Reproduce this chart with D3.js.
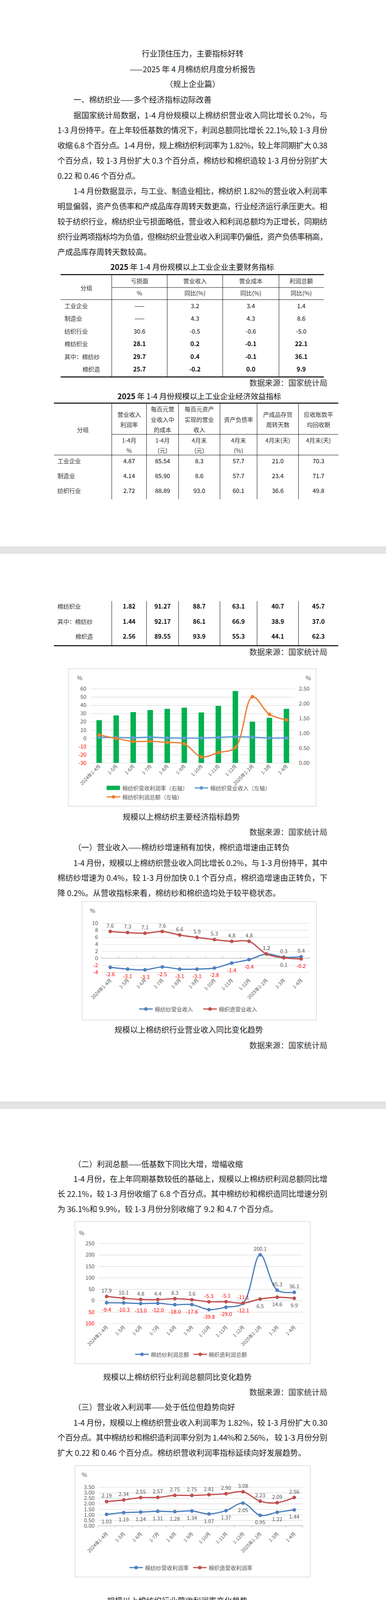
<!DOCTYPE html>
<html>
<head>
<meta charset="utf-8">
<script src="https://d3js.org/d3.v7.min.js"></script>
<style>
  html, body { margin: 0; padding: 0; background: #fff; }
  svg { display: block; }
  svg text { font-family: "Noto Sans CJK SC", "Noto Sans", sans-serif; }
</style>
</head>
<body>
<script>
const FONT = '"Noto Sans CJK SC", "Noto Sans", sans-serif';

// ---- data ----
const months = ['2024年1-4月', '1-5月', '1-6月', '1-7月', '1-8月', '1-9月', '1-10月', '1-11月', '1-12月', '2025年1-2月', '1-3月', '1-4月'];

// table 1: 主要财务指标
const t1Groups = ['工业企业', '制造业', '纺织行业', '棉纺织业', '其中：棉纺纱', '棉织造'];
const t1Loss = ['——', '——', '30.6', '28.1', '29.7', '25.7'];
const t1Revenue = ['3.2', '4.3', '-0.5', '0.2', '0.4', '-0.2'];
const t1Cost = ['3.4', '4.3', '-0.6', '-0.1', '-0.1', '0.0'];
const t1Profit = ['1.4', '8.6', '-5.0', '22.1', '36.1', '9.9'];

// table 2: 经济效益指标
const t2Margin = ['4.87', '4.14', '2.72', '1.82', '1.44', '2.56'];
const t2CostPer100 = ['85.54', '85.90', '88.89', '91.27', '92.17', '89.55'];
const t2RevPerAsset = ['8.3', '8.6', '93.0', '88.7', '86.1', '93.9'];
const t2Debt = ['57.7', '57.7', '60.1', '63.1', '66.9', '55.3'];
const t2StockDays = ['21.0', '23.4', '36.6', '40.7', '38.9', '44.1'];
const t2ReceiveDays = ['70.3', '71.7', '49.8', '45.7', '37.0', '62.3'];

// chart 1
const c1Margin = [1.44, 1.60, 1.71, 1.78, 1.82, 1.86, 1.70, 1.92, 2.42, 1.39, 1.52, 1.82];
const c1Revenue = [1.0, 0.9, 0.5, 1.2, 0.3, 0.1, 0.1, 0.9, 1.7, 1.2, 0.2, 0.2];
const c1Profit = [4.0, -0.3, -4.0, -3.8, -5.2, -6.9, -22.6, -17.5, -11.4, 50.2, 28.9, 22.1];
// chart 2
const yarnRevenue = [-2.6, -3.1, -3.3, -2.5, -3.1, -3.1, -2.8, -1.4, -0.4, 1.2, 0.3, 0.4];
const weaveRevenue = [7.6, 7.3, 7.1, 7.6, 6.6, 5.9, 5.3, 4.8, 4.8, 1.2, 0.1, -0.2];
// chart 3
const yarnProfit = [-9.4, -10.3, -13.0, -12.0, -18.0, -17.6, -39.8, -29.0, -12.1, 200.1, 45.3, 36.1];
const weaveProfit = [17.9, 10.1, 4.8, 4.4, 8.3, 3.6, -5.3, -5.1, -11.1, 6.5, 14.6, 9.9];
// chart 4
const yarnMargin = [1.03, 1.19, 1.24, 1.31, 1.28, 1.34, 1.07, 1.37, 2.05, 0.95, 1.22, 1.44];
const weaveMargin = [2.19, 2.34, 2.55, 2.57, 2.75, 2.75, 2.81, 2.90, 3.08, 2.23, 2.09, 2.56];
// chart 5
const yarnLoss = [30.4, 28.7, 29.2, 28.1, 28.2, 28.2, 27.4, 26.0, 24.4, 31.3, 32.3, 29.7];
const weaveLoss = [25.3, 23.1, 23.7, 22.5, 22.0, 21.9, 21.2, 20.4, 19.5, 28.4, 30.1, 25.7];
// chart 6
const yarnExport = [-6.1, -4.3, -2.8, -3.5, -2.9, -2.2, 1.2, 14.6, 15.0, 17.8, 11.6, 10.9];
const weaveExport = [-1.4, 2.3, -0.3, 1.2, 1.4, 0.8, 1.4, 0.8, -0.2, 7.5, 6.7, 5.5];
// chart 7
const yarnOutput = [705, 898, 1126, 1278, 1461, 1661, 1862, 2061, 2283, 349, 571, 754.5];
const clothOutput = [99, 127, 155, 183, 210, 238, 266, 283, 311, 44, 72, 101.2];
const yarnYoy = [-2.0, -1.2, -1.5, -1.1, -1.3, -1.4, -0.8, 0.3, 1.35, 4.1, 8.11, 7.03];
const clothYoy = [3.4, 2.5, 2.2, 2.3, 3.0, 1.4, 2.1, 1.1, 2.3, 0.9, 3.40, 2.33];

const BLUE = '#4f81bd', RED = '#c0504d', GRAY = '#595959';

// one svg per document page, all sharing the page coordinate system
const BREAKS = [0, 1417, 2838, 4260, 5681, 7079];
const roots = BREAKS.slice(0, -1).map((y0, i) => {
  const h = BREAKS[i + 1] - y0;
  return d3.select('body').append('svg')
    .attr('width', 988).attr('height', h)
    .attr('viewBox', `0 ${y0} 988 ${h}`);
});
function rootAt(y) {
  const i = d3.bisectRight(BREAKS, y) - 1;
  return roots[Math.max(0, Math.min(roots.length - 1, i))];
}

// ---- text helpers ----
function txt(x, y, s, o = {}) {
  const t = rootAt(y).append('text')
    .attr('x', x).attr('y', y)
    .attr('dominant-baseline', 'central')
    .attr('font-size', o.size || 20)
    .attr('fill', o.fill || '#222')
    .attr('font-weight', o.weight || 'normal')
    .attr('text-anchor', o.anchor || 'start')
    .text(s);
  if (o.len) t.attr('textLength', o.len).attr('lengthAdjust', 'spacing');
  return t;
}

function paragraph(lines, y0) {
  lines.forEach((s, i) => {
    const x = i === 0 ? 188 : 147;
    const last = i === lines.length - 1;
    txt(x, y0 + i * 38.9, s, last ? {} : { len: 838 - x });
  });
}

const source = y => txt(838, y, '数据来源：国家统计局', { anchor: 'end', fill: '#333' });

function hline(x1, x2, y, w) {
  rootAt(y).append('line').attr('x1', x1).attr('x2', x2).attr('y1', y).attr('y2', y)
    .attr('stroke', '#000').attr('stroke-width', w);
}
function vline(x, y1, y2) {
  rootAt(y1).append('line').attr('x1', x).attr('x2', x).attr('y1', y1).attr('y2', y2)
    .attr('stroke', '#000').attr('stroke-width', 1);
}

// page breaks
[1400, 2821, 4243, 5664].forEach(y => {
  const r = rootAt(y);
  r.append('rect').attr('x', 0).attr('y', y).attr('width', 988).attr('height', 17).attr('fill', '#e4e4e4');
  r.append('line').attr('x1', 0).attr('x2', 988).attr('y1', y).attr('y2', y).attr('stroke', '#c4c4c4');
  r.append('line').attr('x1', 0).attr('x2', 988).attr('y1', y + 16.5).attr('y2', y + 16.5).attr('stroke', '#d2d2d2');
});

// ---- page 1 ----
txt(493, 136, '行业顶住压力，主要指标好转', { anchor: 'middle' });
txt(493, 176, '——2025 年 4 月棉纺织月度分析报告', { anchor: 'middle' });
txt(493, 214, '（规上企业篇）', { anchor: 'middle' });
txt(188, 254, '一、棉纺织业——多个经济指标边际改善');
paragraph([
  '据国家统计局数据，1-4 月份规模以上棉纺织营业收入同比增长 0.2%，与',
  '1-3 月份持平。在上年较低基数的情况下，利润总额同比增长 22.1%,较 1-3 月份',
  '收缩 6.8 个百分点。1-4 月份，规上棉纺织利润率为 1.82%，较上年同期扩大 0.38',
  '个百分点，较 1-3 月份扩大 0.3 个百分点，棉纺纱和棉织造较 1-3 月份分别扩大',
  '0.22 和 0.46 个百分点。'
], 294);
paragraph([
  '1-4 月份数据显示，与工业、制造业相比，棉纺织 1.82%的营业收入利润率',
  '明显偏弱，资产负债率和产成品库存周转天数更高，行业经济运行承压更大。相',
  '较于纺织行业，棉纺织业亏损面略低，营业收入和利润总额均为正增长，同期纺',
  '织行业两项指标均为负值，但棉纺织业营业收入利润率仍偏低，资产负债率稍高，',
  '产成品库存周转天数较高。'
], 488.5);

// ---- table 1 ----
function tableTitle(x, y, rest) {
  const t = rootAt(y).append('text').attr('x', x).attr('y', y).attr('dominant-baseline', 'central')
    .attr('text-anchor', 'middle').attr('font-size', 19.5).attr('fill', '#111');
  t.append('tspan').attr('font-weight', 'bold').text('2025');
  t.append('tspan').text(rest);
}
tableTitle(492, 682, ' 年 1-4 月份规模以上工业企业主要财务指标');
hline(155, 829, 703, 2.6);
hline(286, 829, 736, 1);
hline(155, 829, 767, 1.2);
hline(155, 829, 965, 2.6);
[286, 428, 570, 714].forEach(x => vline(x, 703, 965));
const cell = { size: 15, anchor: 'middle', fill: '#333' };
txt(221, 736, '分组', cell);
const t1Cx = [357, 499, 642, 771];
['亏损面', '营业收入', '营业成本', '利润总额'].forEach((s, i) => txt(t1Cx[i], 718, s, cell));
['%', '同比(%)', '同比(%)', '同比(%)'].forEach((s, i) => txt(t1Cx[i], 749, s, cell));
const t1Y = [782, 814, 847, 879, 912, 944];
t1Groups.forEach((g, r) => {
  txt(r === 5 ? 211 : 165, t1Y[r], g, { size: 15, fill: '#333' });
  [t1Loss, t1Revenue, t1Cost, t1Profit].forEach((col, c) =>
    txt(t1Cx[c], t1Y[r], col[r], { size: 15.5, anchor: 'middle', fill: '#111', weight: r >= 3 ? 'bold' : 'normal' }));
});
source(979);

// ---- table 2 ----
tableTitle(510, 1013, ' 年 1-4 月份规模以上工业企业经济效益指标');
hline(138, 866, 1032, 2.6);
hline(286, 866, 1112, 1);
hline(138, 866, 1165, 1.2);
hline(138, 866, 1653, 2.6);
[286, 375, 457, 563, 658, 764].forEach(x => { vline(x, 1032, 1278); vline(x, 1539, 1653); });
txt(212, 1099, '分组', cell);
const t2Cx = [330.5, 416, 510, 610.5, 711, 815];
const t2Head = [
  [['营业收入', 1060], ['利润率', 1086]],
  [['每百元营', 1046], ['业收入中', 1073], ['的成本', 1099]],
  [['每百元资产', 1046], ['实现的营业', 1073], ['收入', 1099]],
  [['资产负债率', 1073]],
  [['产成品存货', 1060], ['周转天数', 1086]],
  [['应收账款平', 1060], ['均回收期', 1086]]
];
t2Head.forEach((h, i) => h.forEach(([s, y]) => txt(t2Cx[i], y, s, cell)));
const t2Sub = [['1-4月', '%'], ['1-4月', '(元)'], ['4月末', '(元)'], ['4月末', '(%)'], ['4月末(天)', ''], ['4月末(天)', '']];
t2Sub.forEach((s, i) => { txt(t2Cx[i], 1126, s[0], cell); if (s[1]) txt(t2Cx[i], 1152, s[1], cell); });
const t2Y = [1179, 1217, 1255, 1551, 1590, 1628];
t1Groups.forEach((g, r) => {
  txt(r === 5 ? 193 : 147, t2Y[r], g, { size: 15, fill: '#333' });
  [t2Margin, t2CostPer100, t2RevPerAsset, t2Debt, t2StockDays, t2ReceiveDays].forEach((col, c) =>
    txt(t2Cx[c], t2Y[r], col[r], { size: 15.5, anchor: 'middle', fill: '#111', weight: r >= 3 ? 'bold' : 'normal' }));
});
source(1668);

// ---- chart helper ----
function drawChart(c) {
  const [bx0, by0, bx1, by1] = c.box;
  const [px0, py0, px1, py1] = c.plot;
  const g = rootAt(by0).append('g');
  g.append('rect').attr('x', bx0).attr('y', by0).attr('width', bx1 - bx0).attr('height', by1 - by0)
    .attr('fill', '#fff').attr('stroke', '#d9d9d9').attr('stroke-width', 1.5);

  const x = d3.scaleBand().domain(months).range([px0, px1]);
  const cx = i => x(months[i]) + x.bandwidth() / 2;
  const yL = d3.scaleLinear().domain(c.left.domain).range([py1, py0]);
  const yR = c.right ? d3.scaleLinear().domain(c.right.domain).range([py1, py0]) : null;
  const scaleOf = s => (s.axis === 'right' ? yR : yL);

  // left axis + grid
  const ga = g.append('g').attr('transform', `translate(${px0},0)`)
    .call(d3.axisLeft(yL).tickValues(c.left.ticks).tickSize(-(px1 - px0))
      .tickPadding(c.left.pad).tickFormat(c.left.fmt || (d => String(d))))
    .attr('font-family', FONT).attr('font-size', 14);
  ga.select('.domain').remove();
  ga.selectAll('line').attr('stroke', '#d9d9d9').attr('stroke-width', 1.2);
  ga.selectAll('text').attr('fill', d => (c.left.redNeg && d < 0) ? '#ff0000' : GRAY);

  if (c.right) {
    const gr = g.append('g').attr('transform', `translate(${px1},0)`)
      .call(d3.axisRight(yR).tickValues(c.right.ticks).tickSize(0)
        .tickPadding(c.right.pad).tickFormat(c.right.fmt || (d => String(d))))
      .attr('font-family', FONT).attr('font-size', 14);
    gr.select('.domain').remove();
    gr.selectAll('text').attr('fill', GRAY);
  }

  // category axis line with ticks between bands
  if (c.axisAt !== undefined) {
    const ya = yL(c.axisAt);
    g.append('line').attr('x1', px0).attr('x2', px1).attr('y1', ya).attr('y2', ya)
      .attr('stroke', '#bfbfbf').attr('stroke-width', 1.3);
    g.selectAll(null).data(d3.range(months.length + 1)).join('line')
      .attr('x1', i => px0 + i * x.step()).attr('x2', i => px0 + i * x.step())
      .attr('y1', ya).attr('y2', ya + c.tickLen)
      .attr('stroke', '#bfbfbf').attr('stroke-width', 1.3);
  }

  // rotated category labels
  const gx = g.append('g').attr('transform', `translate(0,${py1 + c.xDy})`)
    .call(d3.axisBottom(x).tickSize(0))
    .attr('font-family', FONT).attr('font-size', 12);
  gx.select('.domain').remove();
  gx.selectAll('text').attr('x', 2).attr('y', 0).attr('dy', '0.35em')
    .attr('transform', 'rotate(-45)').attr('text-anchor', 'end').attr('fill', GRAY);

  // bars
  (c.bars || []).forEach(b => {
    const ys = scaleOf(b);
    g.selectAll(null).data(b.values).join('rect')
      .attr('x', (d, i) => cx(i) + b.dx).attr('width', b.w)
      .attr('y', d => ys(d)).attr('height', d => py1 - ys(d))
      .attr('fill', b.color);
  });

  // lines
  c.lines.forEach(s => {
    const ys = scaleOf(s);
    const line = d3.line().x((d, i) => cx(i)).y(d => ys(d)).curve(d3.curveCatmullRom.alpha(0.5));
    g.append('path').attr('d', line(s.values)).attr('fill', 'none')
      .attr('stroke', s.color).attr('stroke-width', 3.2).attr('stroke-linejoin', 'round');
    g.selectAll(null).data(s.values).join('circle')
      .attr('cx', (d, i) => cx(i)).attr('cy', d => ys(d)).attr('r', 4.6).attr('fill', s.color);
  });

  // data labels: above when this series is the higher one
  if (c.labels) {
    c.lines.forEach((s, si) => {
      const ys = scaleOf(s);
      const other = c.lines[1 - si].values;
      g.selectAll(null).data(s.values).join('text')
        .attr('x', (d, i) => cx(i))
        .attr('y', (d, i) => ys(d) + (d >= other[i] ? -16 : 17))
        .attr('text-anchor', 'middle').attr('dominant-baseline', 'central')
        .attr('font-size', 13.5)
        .attr('fill', d => d < 0 ? '#ff0000' : GRAY)
        .text(d => d.toFixed(c.labels));
    });
  }

  // units
  (c.units || []).forEach(u => txt(u[0], u[1], u[2], { size: 15, fill: GRAY, anchor: u[3] || 'start' }));

  // legend
  c.legend.forEach(l => {
    if (l.type === 'bar') {
      g.append('rect').attr('x', l.x).attr('y', l.y - 5.5).attr('width', 34).attr('height', 11).attr('fill', l.color);
    } else {
      g.append('line').attr('x1', l.x).attr('x2', l.x + 35).attr('y1', l.y).attr('y2', l.y)
        .attr('stroke', l.color).attr('stroke-width', 3.2);
      g.append('circle').attr('cx', l.x + 17.5).attr('cy', l.y).attr('r', 4.6).attr('fill', l.color);
    }
    txt(l.tx, l.y, l.name, { size: 14, fill: GRAY });
  });
}

// ---- chart 1 ----
drawChart({
  box: [175, 1712, 809, 2064], plot: [232, 1763, 755, 1953],
  left: { domain: [-30, 60], ticks: d3.range(-30, 61, 10), pad: 11, redNeg: true },
  right: { domain: [0, 2.5], ticks: [0, 0.5, 1, 1.5, 2, 2.5], pad: 10, fmt: d => d.toFixed(2) },
  units: [[204, 1734, '%', 'middle'], [789, 1734, '%', 'middle']],
  bars: [{ values: c1Margin, axis: 'right', color: '#00b050', dx: -7, w: 14 }],
  lines: [{ values: c1Revenue, color: '#5b9bd5' }, { values: c1Profit, color: '#ed7d31' }],
  xDy: 8,
  legend: [
    { type: 'bar', color: '#00b050', x: 273, y: 2017, tx: 313, name: '棉纺织营收利润率（右轴）' },
    { type: 'line', color: '#5b9bd5', x: 498, y: 2017, tx: 538, name: '棉纺织营业收入（左轴）' },
    { type: 'line', color: '#ed7d31', x: 273, y: 2040, tx: 313, name: '棉纺织利润总额（左轴）' }
  ]
});
txt(314, 2090, '规模以上棉纺织主要经济指标趋势');
source(2129);

// ---- section 一 ----
txt(188, 2168, '（一）营业收入——棉纺纱增速稍有加快，棉织造增速由正转负');
paragraph([
  '1-4 月份，规模以上棉纺织营业收入同比增长 0.2%，与 1-3 月份持平，其中',
  '棉纺纱增速为 0.4%，较 1-3 月份加快 0.1 个百分点，棉织造增速由正转负，下',
  '降 0.2%。从营收指标来看，棉纺纱和棉织造均处于较平稳状态。'
], 2208);
drawChart({
  box: [210, 2308, 810, 2611], plot: [260, 2363, 793, 2489],
  left: { domain: [-4, 10], ticks: d3.range(-4, 11, 2), pad: 9, redNeg: true },
  units: [[237, 2330, '%', 'middle']],
  axisAt: 0, tickLen: -5,
  lines: [{ values: yarnRevenue, color: BLUE }, { values: weaveRevenue, color: RED }],
  labels: 1, xDy: 20,
  legend: [
    { type: 'line', color: BLUE, x: 356, y: 2583, tx: 396, name: '棉纺纱营业收入' },
    { type: 'line', color: RED, x: 520, y: 2583, tx: 560, name: '棉织造营业收入' }
  ]
});
txt(293, 2635, '规模以上棉纺织行业营业收入同比变化趋势');
source(2675);

// ---- section 二 ----
txt(188, 2979, '（二）利润总额——低基数下同比大增，增幅收缩');
paragraph([
  '1-4 月份，在上年同期基数较低的基础上，规模以上棉纺织利润总额同比增',
  '长 22.1%，较 1-3 月份收缩了 6.8 个百分点。其中棉纺纱和棉织造同比增速分别',
  '为 36.1%和 9.9%，较 1-3 月份分别收缩了 9.2 和 4.7 个百分点。'
], 3017);
drawChart({
  box: [192, 3127, 794, 3491], plot: [251, 3183, 775, 3388],
  left: { domain: [-100, 250], ticks: d3.range(-100, 251, 50), pad: 9, redNeg: true, fmt: d => String(Math.abs(d)) },
  units: [[209, 3155, '%', 'middle']],
  lines: [{ values: yarnProfit, color: BLUE }, { values: weaveProfit, color: RED }],
  labels: 1, xDy: 9,
  legend: [
    { type: 'line', color: BLUE, x: 346, y: 3467, tx: 386, name: '棉纺纱利润总额' },
    { type: 'line', color: RED, x: 495, y: 3467, tx: 534, name: '棉织造利润总额' }
  ]
});
txt(264, 3524, '规模以上棉纺织行业利润总额同比变化趋势');
source(3563);

// ---- section 三 ----
txt(188, 3601, '（三）营业收入利润率——处于低位但趋势向好');
paragraph([
  '1-4 月份，规模以上棉纺织营业收入利润率为 1.82%，较 1-3 月份扩大 0.30',
  '个百分点。其中棉纺纱和棉织造利润率分别为 1.44%和 2.56%， 较 1-3 月份分别',
  '扩大 0.22 和 0.46 个百分点。棉纺织营收利润率指标延续向好发展趋势。'
], 3641);
drawChart({
  box: [192, 3752, 794, 4037], plot: [251, 3807, 775, 3906],
  left: { domain: [0, 3.5], ticks: d3.range(0, 3.51, 0.5), pad: 9, fmt: d => d.toFixed(2) },
  units: [[216, 3774, '%', 'middle']],
  axisAt: 0, tickLen: 5,
  lines: [{ values: yarnMargin, color: BLUE }, { values: weaveMargin, color: RED }],
  labels: 2, xDy: 20,
  legend: [
    { type: 'line', color: BLUE, x: 331, y: 4013, tx: 371, name: '棉纺纱营收利润率' },
    { type: 'line', color: RED, x: 494, y: 4013, tx: 534, name: '棉织造营收利润率' }
  ]
});
txt(274, 4097, '规模以上棉纺织行业营收利润率变化趋势');
source(4401);

// ---- section 四 ----
txt(188, 4440, '（四）亏损面——棉纺纱和棉织造均有收缩');
paragraph([
  '1-4 月份，规模以上棉纺织亏损面为 28.1%，较 1-3 月份收缩 3.3 个百分点。',
  '其中棉纺纱和棉织造亏损面分别为 29.7%和 25.7%，较 1-3 月份分别收缩了 2.6',
  '和 4.4 个百分点。从亏损面指标看，棉纺纱和棉织造均向好的方向发展。'
], 4479);
drawChart({
  box: [192, 4587, 794, 4875], plot: [251, 4643, 775, 4743],
  left: { domain: [15, 35], ticks: d3.range(15, 36, 5), pad: 9 },
  units: [[221, 4608, '%', 'middle']],
  axisAt: 15, tickLen: 5,
  lines: [{ values: yarnLoss, color: BLUE }, { values: weaveLoss, color: RED }],
  labels: 1, xDy: 20,
  legend: [
    { type: 'line', color: BLUE, x: 357, y: 4852, tx: 401, name: '棉纺纱亏损面' },
    { type: 'line', color: RED, x: 494, y: 4852, tx: 538, name: '棉织造亏损面' }
  ]
});
txt(304, 4908, '规模以上棉纺织行业亏损面变化趋势');
source(4947);

// ---- section 五 ----
txt(188, 4986, '（五）出口交货值——棉纺纱增速高于棉织造，均在良好区间');
paragraph([
  '1-4 月份，规模以上棉纺织出口交货值同比增长 7.2%，较 1-3 月份增速降低',
  '1.0 个百分点。其中棉纺纱和棉织造增速分别为 10.9%和 5.5%，较 1-3 月份分别',
  '降低 0.7 和 1.2 个百分点。'
], 5026);
drawChart({
  box: [192, 5128, 794, 5454], plot: [244, 5170, 775, 5342],
  left: { domain: [-15, 20], ticks: d3.range(-15, 21, 5), pad: 10, redNeg: true },
  units: [[212, 5149, '%', 'middle']],
  axisAt: -15, tickLen: 5,
  lines: [{ values: yarnExport, color: BLUE }, { values: weaveExport, color: RED }],
  labels: 1, xDy: 20,
  legend: [
    { type: 'line', color: BLUE, x: 331, y: 5429, tx: 371, name: '棉纺纱出口交货值' },
    { type: 'line', color: RED, x: 494, y: 5429, tx: 534, name: '棉织造出口交货值' }
  ]
});
txt(254, 5480, '规模以上棉纺织行业出口交货值同比变化趋势');
source(5518);

// ---- section 六 ----
txt(188, 5822, '（六）产品产量——增速较快或加大竞争力度');
paragraph([
  '1-4 月份，规模以上纱产量为 754.5 万吨，同比增长 7.03%，增速较 1-3 月',
  '份放缓 1.08 个百分点，棉纱、棉混纺纱和化纤纱均有不同程度增长。规模以上',
  '布产量为 101.2 亿米，同比增长 2.33%，增速较 1-3 月份放缓 1.07 个百分点，',
  '其中色织布（含牛仔布）增速达到 10.48%。棉纺织产品增速处于较快水平，一',
  '方面反映行业新增投资和开工水平较好，但在利润率整体偏低的情况下也加大了',
  '竞争力度。'
], 5861);
drawChart({
  box: [187, 6082, 789, 6404], plot: [239, 6121, 739, 6293],
  left: { domain: [0, 2500], ticks: d3.range(0, 2501, 500), pad: 10 },
  right: { domain: [-4, 10], ticks: d3.range(-4, 11, 2), pad: 8 },
  units: [[192, 6104, '万吨 亿米', 'start'], [749, 6101, '%', 'middle']],
  bars: [
    { values: yarnOutput, color: BLUE, dx: -10, w: 9.5 },
    { values: clothOutput, color: '#9bbb59', dx: 0.5, w: 9.5 }
  ],
  lines: [
    { values: yarnYoy, axis: 'right', color: RED },
    { values: clothYoy, axis: 'right', color: '#8064a2' }
  ],
  xDy: 12,
  legend: [
    { type: 'bar', color: BLUE, x: 334, y: 6360, tx: 374, name: '纱产量（左轴）' },
    { type: 'bar', color: '#9bbb59', x: 528, y: 6360, tx: 567, name: '布产量（左轴）' },
    { type: 'line', color: RED, x: 333, y: 6384, tx: 374, name: '纱产量同比（右轴）' },
    { type: 'line', color: '#8064a2', x: 528, y: 6384, tx: 567, name: '布产量同比（右轴）' }
  ]
});
txt(254, 6432, '规模以上棉纺织行业纱和布产量同比变化趋势');
source(6471);

// ---- part 二 ----
txt(188, 6511, '二、运行展望');
paragraph([
  '4 月份，棉纺织行业面对复杂的国际环境和国内终端需求仍然不足的现状，',
  '有力有效应对内外部挑战，主要经济指标边际改善，整体趋势向好。但仍要看到，',
  '国际环境变数仍多，国内终端需求不足等制约因素仍然存在，与过往历年相比，',
  '利润率和亏损面等比率指标仍然处于较弱水平，行业效益稳步恢复的基础还需继',
  '续巩固。接下来，市场或将逐步转入淡季，行业要深入贯彻落实党中央、国务院',
  '决策部署，推动科技创新和产业创新融合发展，优化调整产业结构，加快转型升',
  '级，促进行业效益持续恢复向好。'
], 6550);
</script>
</body>
</html>
